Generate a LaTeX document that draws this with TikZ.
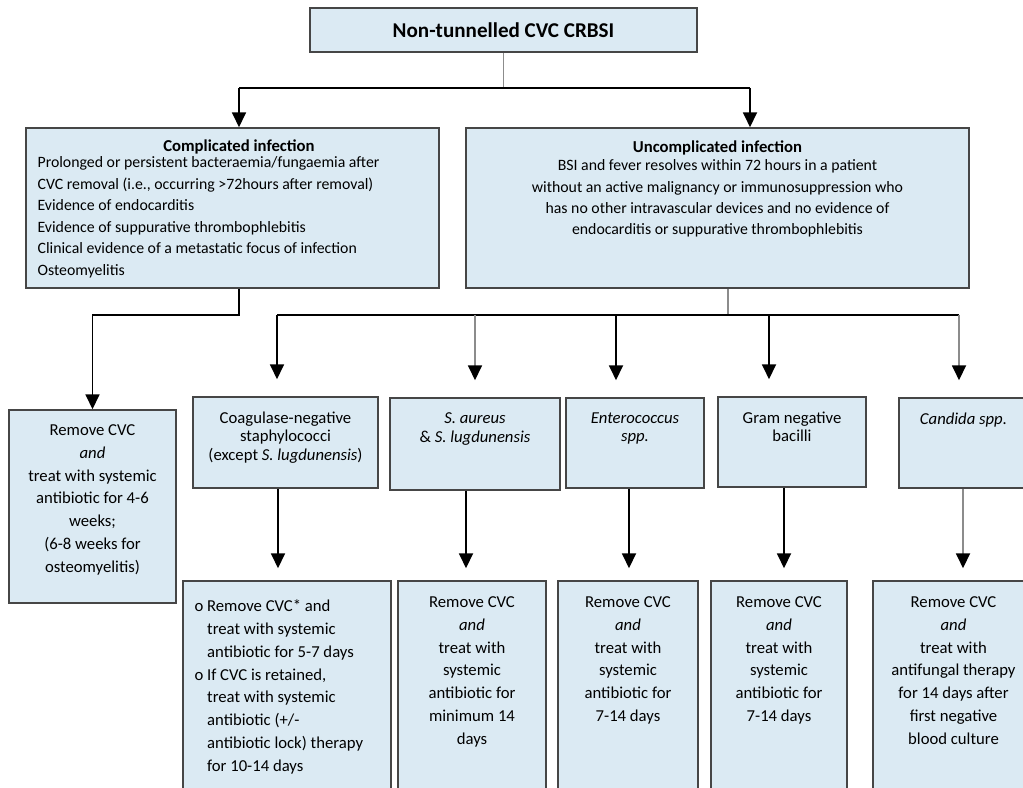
\documentclass[tikz,border=0pt]{standalone}
\usepackage{fontspec}
\setmainfont{Carlito}
\usetikzlibrary{arrows.meta, positioning, calc}

\definecolor{boxblue}{RGB}{219,234,243}
\definecolor{edgegrey}{RGB}{70,70,70}

\begin{document}
\begin{tikzpicture}[
    x=0.02cm, y=-0.02cm,
    box/.style={rectangle, draw=edgegrey, line width=0.9pt, fill=boxblue, inner sep=0pt},
    head/.style={font=\fontsize{9.5}{12}\selectfont\bfseries, inner sep=0pt, align=center},
    toptxt/.style={font=\fontsize{9}{12.2}\selectfont, inner sep=0pt},
    lowtxt/.style={font=\fontsize{9.5}{13}\selectfont, inner sep=0pt, align=center},
    midtxt/.style={font=\fontsize{9.5}{10.6}\selectfont, inner sep=0pt, align=center},
    line/.style={line width=0.9pt},
    greyline/.style={line width=0.9pt, draw=black!45},
    arrow/.style={line width=0.9pt, -{Triangle[width=8pt, length=8.5pt, black]}},
    greyarrow/.style={arrow, draw=black!45}
]

    \useasboundingbox (0,0) rectangle (1023,787);
    \clip (0,0) rectangle (1023,787);

    % Top box
    \node[box, minimum width=7.74cm, minimum height=0.88cm,
          font=\fontsize{12}{14}\selectfont\bfseries] (top) at (503.5,30) {Non-tunnelled CVC CRBSI};

    % --- First level ---
    \node[box, minimum width=8.26cm, minimum height=3.2cm] (comp) at (232.5,208) {};
    \node[box, minimum width=10.06cm, minimum height=3.2cm] (uncomp) at (717.5,208) {};

    \node[head, below=0.25cm of comp.north, xshift=0.13cm] (comphead) {Complicated infection};
    \node[toptxt, align=left, anchor=north west, yshift=-1pt, xshift=0.24cm]
        (complist) at (comp.west |- comphead.south)
        {Prolonged or persistent bacteraemia/fungaemia after\\
         CVC removal (i.e., occurring >72hours after removal)\\
         Evidence of endocarditis\\
         Evidence of suppurative thrombophlebitis\\
         Clinical evidence of a metastatic focus of infection\\
         Osteomyelitis};

    \node[head, below=0.27cm of uncomp.north] (uncomphead) {Uncomplicated infection};
    \node[toptxt, align=center, below=2pt of uncomphead] (uncomplist)
        {BSI and fever resolves within 72 hours in a patient\\
         without an active malignancy or immunosuppression who\\
         has no other intravascular devices and no evidence of\\
         endocarditis or suppurative thrombophlebitis};

    % --- Second level ---
    \node[box, minimum width=3.34cm, minimum height=3.86cm] (remove) at (92.5,506.5) {};
    \node[box, minimum width=3.7cm, minimum height=1.82cm] (cons) at (285.5,442.5) {};
    \node[box, minimum width=3.4cm, minimum height=1.84cm] (saur) at (475,444) {};
    \node[box, minimum width=2.76cm, minimum height=1.8cm] (ent) at (635,443) {};
    \node[box, minimum width=2.96cm, minimum height=1.8cm] (gram) at (792,442) {};
    \node[box, minimum width=2.82cm, minimum height=1.8cm] (cand) at (969.5,443) {};

    \node[lowtxt, below=0.3cm of remove.north] (removetxt)
        {Remove CVC\\ \textit{and}\\ treat with systemic\\ antibiotic for 4-6\\ weeks;\\
         (6-8 weeks for\\ osteomyelitis)};
    \node[midtxt, below=0.3cm of cons.north] (constxt)
        {Coagulase-negative\\ staphylococci\\ (except \textit{S. lugdunensis})};
    \node[midtxt, below=0.3cm of saur.north] (saurtxt)
        {\textit{S.\ aureus}\\ \& \textit{S. lugdunensis}};
    \node[midtxt, below=0.3cm of ent.north] (enttxt)
        {\textit{Enterococcus}\\ \textit{spp.}};
    \node[midtxt, below=0.3cm of gram.north] (gramtxt)
        {Gram negative\\ bacilli};
    \node[midtxt, below=0.3cm of cand.north, xshift=-0.12cm] (candtxt)
        {\textit{Candida spp.}};

    % --- Third level ---
    \node[box, minimum width=4.16cm, minimum height=4.58cm] (cons3) at (287,695.5) {};
    \node[box, minimum width=2.96cm, minimum height=4.58cm] (saur3) at (472,695.5) {};
    \node[box, minimum width=2.8cm, minimum height=4.58cm] (ent3) at (628,695.5) {};
    \node[box, minimum width=2.72cm, minimum height=4.58cm] (gram3) at (779,695.5) {};
    \node[box, minimum width=3.34cm, minimum height=4.58cm] (cand3) at (956.5,695.5) {};

    \node[lowtxt, align=left, below right=0.3cm and 0.24cm of cons3.north west] (cons3txt)
        {\begin{tabular}{@{}l@{\ }l@{}}
         o & Remove CVC* and\\
           & treat with systemic\\
           & antibiotic for 5-7 days\\
         o & If CVC is retained,\\
           & treat with systemic\\
           & antibiotic (+/-\\
           & antibiotic lock) therapy\\
           & for 10-14 days
         \end{tabular}};
    \node[lowtxt, below=0.32cm of saur3.north] (saur3txt)
        {Remove CVC\\ \textit{and}\\ treat with\\ systemic\\ antibiotic for\\ minimum 14\\ days};
    \node[lowtxt, below=0.32cm of ent3.north] (ent3txt)
        {Remove CVC\\ \textit{and}\\ treat with\\ systemic\\ antibiotic for\\ 7-14 days};
    \node[lowtxt, below=0.32cm of gram3.north] (gram3txt)
        {Remove CVC\\ \textit{and}\\ treat with\\ systemic\\ antibiotic for\\ 7-14 days};
    \node[lowtxt, below=0.32cm of cand3.north, xshift=-0.06cm] (cand3txt)
        {Remove CVC\\ \textit{and}\\ treat with\\ antifungal therapy\\ for 14 days after\\
         first negative\\ blood culture};

    % --- Connectors: top to first level ---
    \coordinate (barL) at (239,88);
    \coordinate (barR) at (750,88);
    \draw[greyline] (top.south) -- (top.south |- barL);
    \draw[line] (barL) -- (barR);
    \draw[arrow] (barL) -- (barL |- comp.north);
    \draw[arrow] (barR) -- (barR |- uncomp.north);

    % --- Complicated branch ---
    \coordinate (compdown) at (239,315);
    \draw[arrow] (comp.south -| compdown) -- (compdown) -| (remove.north);

    % --- Uncomplicated branch ---
    \coordinate (fork) at (728,315);
    \coordinate (f1) at (277,315);
    \coordinate (f2) at (475,315);
    \coordinate (f3) at (616,315);
    \coordinate (f4) at (769,315);
    \coordinate (f5) at (959,315);
    \draw[greyline] (uncomp.south -| fork) -- (fork);
    \draw[line] (f1) -- (f5);
    \draw[arrow, shorten >=0.34cm] (f1) -- (f1 |- cons.north);
    \draw[greyarrow, shorten >=0.34cm] (f2) -- (f2 |- saur.north);
    \draw[arrow, shorten >=0.34cm] (f3) -- (f3 |- ent.north);
    \draw[arrow, shorten >=0.34cm] (f4) -- (f4 |- gram.north);
    \draw[greyarrow, shorten >=0.34cm] (f5) -- (f5 |- cand.north);

    % --- Second to third level ---
    \draw[arrow, shorten >=0.24cm] ([xshift=-0.15cm]cons.south) -- ([xshift=-0.15cm]cons.south |- cons3.north);
    \draw[arrow, shorten >=0.24cm] ([xshift=-0.18cm]saur.south) -- ([xshift=-0.18cm]saur.south |- saur3.north);
    \draw[arrow, shorten >=0.24cm] ([xshift=-0.12cm]ent.south) -- ([xshift=-0.12cm]ent.south |- ent3.north);
    \draw[arrow, shorten >=0.24cm] ([xshift=-0.16cm]gram.south) -- ([xshift=-0.16cm]gram.south |- gram3.north);
    \draw[greyarrow, shorten >=0.24cm] ([xshift=-0.13cm]cand.south) -- ([xshift=-0.13cm]cand.south |- cand3.north);

\end{tikzpicture}
\end{document}
